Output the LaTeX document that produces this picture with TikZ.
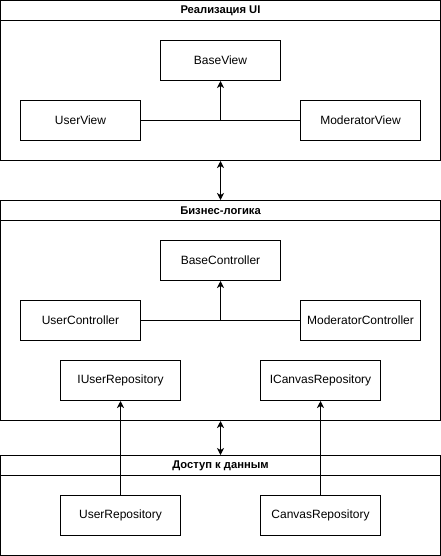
\documentclass[tikz,border=0pt]{standalone}
\usepackage{fontspec}
\setmainfont{Liberation Sans}
\usetikzlibrary{arrows.meta}
\begin{document}
\begin{tikzpicture}[x=1pt,y=-1pt,
  every node/.style={font=\fontsize{12}{14}\selectfont},
  cls/.style={draw,line width=1pt,minimum width=120pt,minimum height=40pt,inner sep=0pt},
  cont/.style={draw,line width=1pt,minimum width=440pt,inner sep=0pt},
  hdr/.style={font=\fontsize{11.2}{13}\selectfont\bfseries},
  conn/.style={line width=1pt},
  tip/.style={-{Stealth[length=7pt,width=7pt,inset=2pt]}},
  dtip/.style={{Stealth[length=7pt,width=7pt,inset=2pt]}-{Stealth[length=7pt,width=7pt,inset=2pt]}}]
\useasboundingbox (0,0) rectangle (441,556);
% containers
\node[cont,minimum height=160pt] (c1) at (220.5,80.5) {};
\draw[conn] (0.5,20.5) -- (440.5,20.5);
\node[hdr] (h1) at (220.5,11) {Реализация UI};
\node[cont,minimum height=220pt] (c2) at (220.5,310.5) {};
\draw[conn] (0.5,220.5) -- (440.5,220.5);
\node[hdr] (h2) at (220.5,211) {Бизнес-логика};
\node[cont,minimum height=100pt] (c3) at (220.5,505.5) {};
\draw[conn] (0.5,475.5) -- (440.5,475.5);
\node[hdr] (h3) at (220.5,466) {Доступ к данным};
% UI
\node[cls] (bv) at (220.5,60.5) {BaseView};
\node[cls] (uv) at (80.5,120.5) {UserView};
\node[cls] (mv) at (360.5,120.5) {ModeratorView};
\coordinate (j1) at (220.5,120.5);
\draw[conn] (uv.east) -- (mv.west);
\draw[conn,tip] (j1) -- (bv.south);
% Business
\node[cls] (bc) at (220.5,260.5) {BaseController};
\node[cls] (uc) at (80.5,320.5) {UserController};
\node[cls] (mc) at (360.5,320.5) {ModeratorController};
\coordinate (j2) at (220.5,320.5);
\draw[conn] (uc.east) -- (mc.west);
\draw[conn,tip] (j2) -- (bc.south);
\node[cls] (iur) at (120.5,380.5) {IUserRepository};
\node[cls] (icr) at (320.5,380.5) {ICanvasRepository};
% Data
\node[cls] (ur) at (120.5,515.5) {UserRepository};
\node[cls] (cr) at (320.5,515.5) {CanvasRepository};
\draw[conn,tip] (ur.north) -- (iur.south);
\draw[conn,tip] (cr.north) -- (icr.south);
% between layers
\draw[conn,dtip] (c1.south) -- (c2.north);
\draw[conn,dtip] (c2.south) -- (c3.north);
\end{tikzpicture}
\end{document}
